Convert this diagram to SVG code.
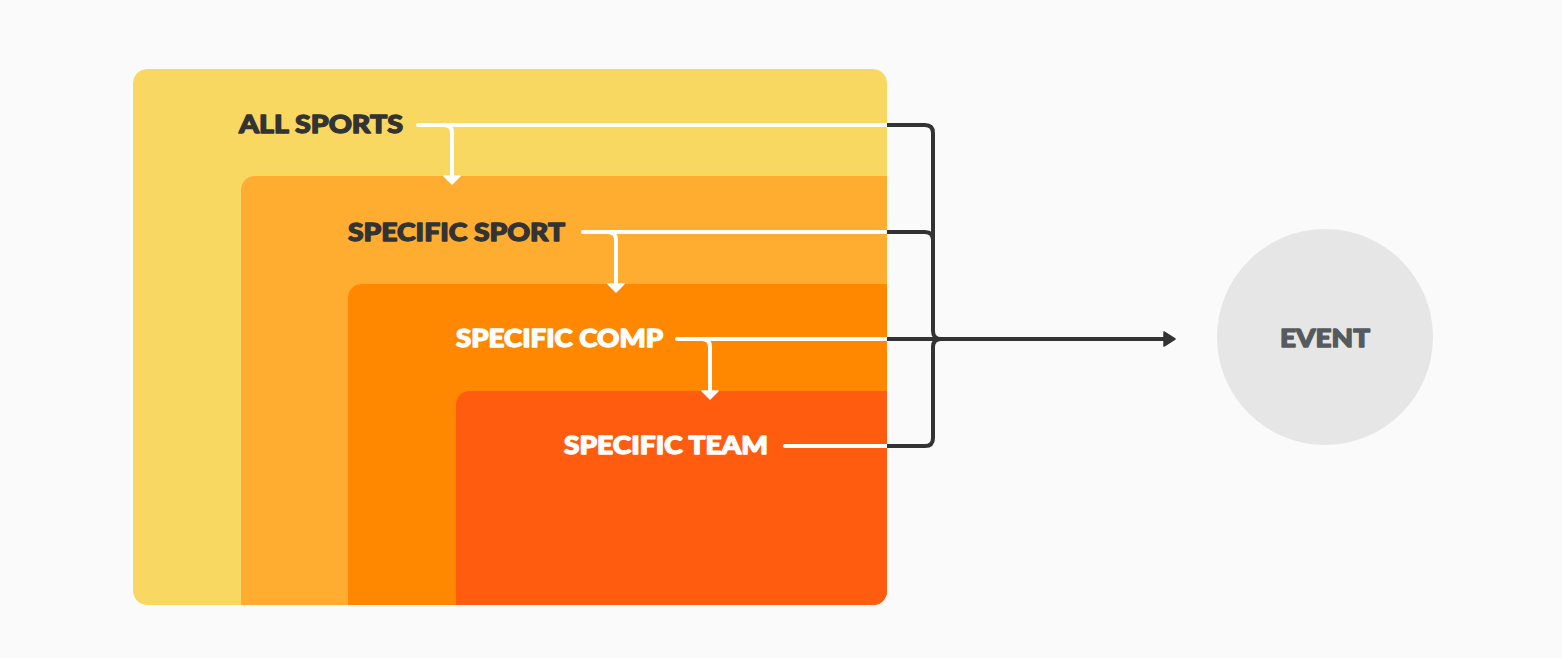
<svg xmlns="http://www.w3.org/2000/svg" width="1562" height="658" viewBox="0 0 1562 658">
<style>
.lbl{font-family:Lato,"Liberation Sans",sans-serif;font-weight:900;font-size:25px;text-anchor:end;stroke-width:1.3;stroke-linejoin:round}
.dark{fill:#333333;stroke:#333333}
.white{fill:#ffffff;stroke:#ffffff}
.wl{fill:none;stroke:#ffffff;stroke-width:4;stroke-linecap:round}
.dl{fill:none;stroke:#333333;stroke-width:4;stroke-linejoin:round}
.wh{fill:#ffffff;stroke:#ffffff;stroke-width:1.5;stroke-linejoin:round}
</style>
<defs>
<clipPath id="outer"><rect x="133" y="69" width="754" height="536" rx="14"/></clipPath>
</defs>
<rect width="1562" height="658" fill="#fafafa"/>
<g clip-path="url(#outer)">
<g id="all-sports"><rect x="133" y="69" width="754" height="536" rx="14" fill="#f9d862"/></g>
<g id="specific-sport"><rect x="241" y="176" width="680" height="460" rx="14" fill="#ffad30"/></g>
<g id="specific-comp"><rect x="348" y="284" width="580" height="360" rx="14" fill="#ff8800"/></g>
<g id="specific-team"><rect x="456" y="391" width="480" height="260" rx="14" fill="#ff5c10"/></g>
</g>
<text class="lbl dark" x="403" y="133" textLength="164" lengthAdjust="spacingAndGlyphs">ALL SPORTS</text>
<text class="lbl dark" x="565" y="241" textLength="217" lengthAdjust="spacingAndGlyphs">SPECIFIC SPORT</text>
<text class="lbl white" x="663" y="347" textLength="207" lengthAdjust="spacingAndGlyphs">SPECIFIC COMP</text>
<text class="lbl white" x="768" y="454" textLength="204" lengthAdjust="spacingAndGlyphs">SPECIFIC TEAM</text>
<g id="event">
<circle cx="1325" cy="337" r="108" fill="#e6e6e6"/>
<text x="1325" y="347" font-family="Lato,'Liberation Sans',sans-serif" font-weight="900" font-size="25" fill="#555a5f" stroke="#555a5f" stroke-width="1.3" stroke-linejoin="round" text-anchor="middle" textLength="90" lengthAdjust="spacingAndGlyphs">EVENT</text>
</g>
<g id="connectors">
<path class="wl" d="M418 125 H887"/>
<path class="wl" d="M444 125 Q452 125 452 133 V177"/>
<path class="wh" d="M444 176 L460 176 L452 184 Z"/>
<path class="wl" d="M583 232 H887"/>
<path class="wl" d="M608 232 Q616 232 616 240 V285"/>
<path class="wh" d="M608 284 L624 284 L616 292 Z"/>
<path class="wl" d="M677 339 H887"/>
<path class="wl" d="M702 339 Q710 339 710 347 V392"/>
<path class="wh" d="M702 391 L718 391 L710 399 Z"/>
<path class="wl" d="M785 446 H887"/>
<path class="dl" d="M887 125 H925 Q933 125 933 133 V331 Q933 339 941 339"/>
<path class="dl" d="M887 232 H925 Q933 232 933 240 V260"/>
<path class="dl" d="M887 446 H925 Q933 446 933 438 V347 Q933 339 941 339"/>
<path class="dl" d="M887 339 H1166"/>
<path d="M1164 332 L1175 339 L1164 346 Z" fill="#333" stroke="#333" stroke-width="1.5" stroke-linejoin="round"/>
</g>
</svg>
